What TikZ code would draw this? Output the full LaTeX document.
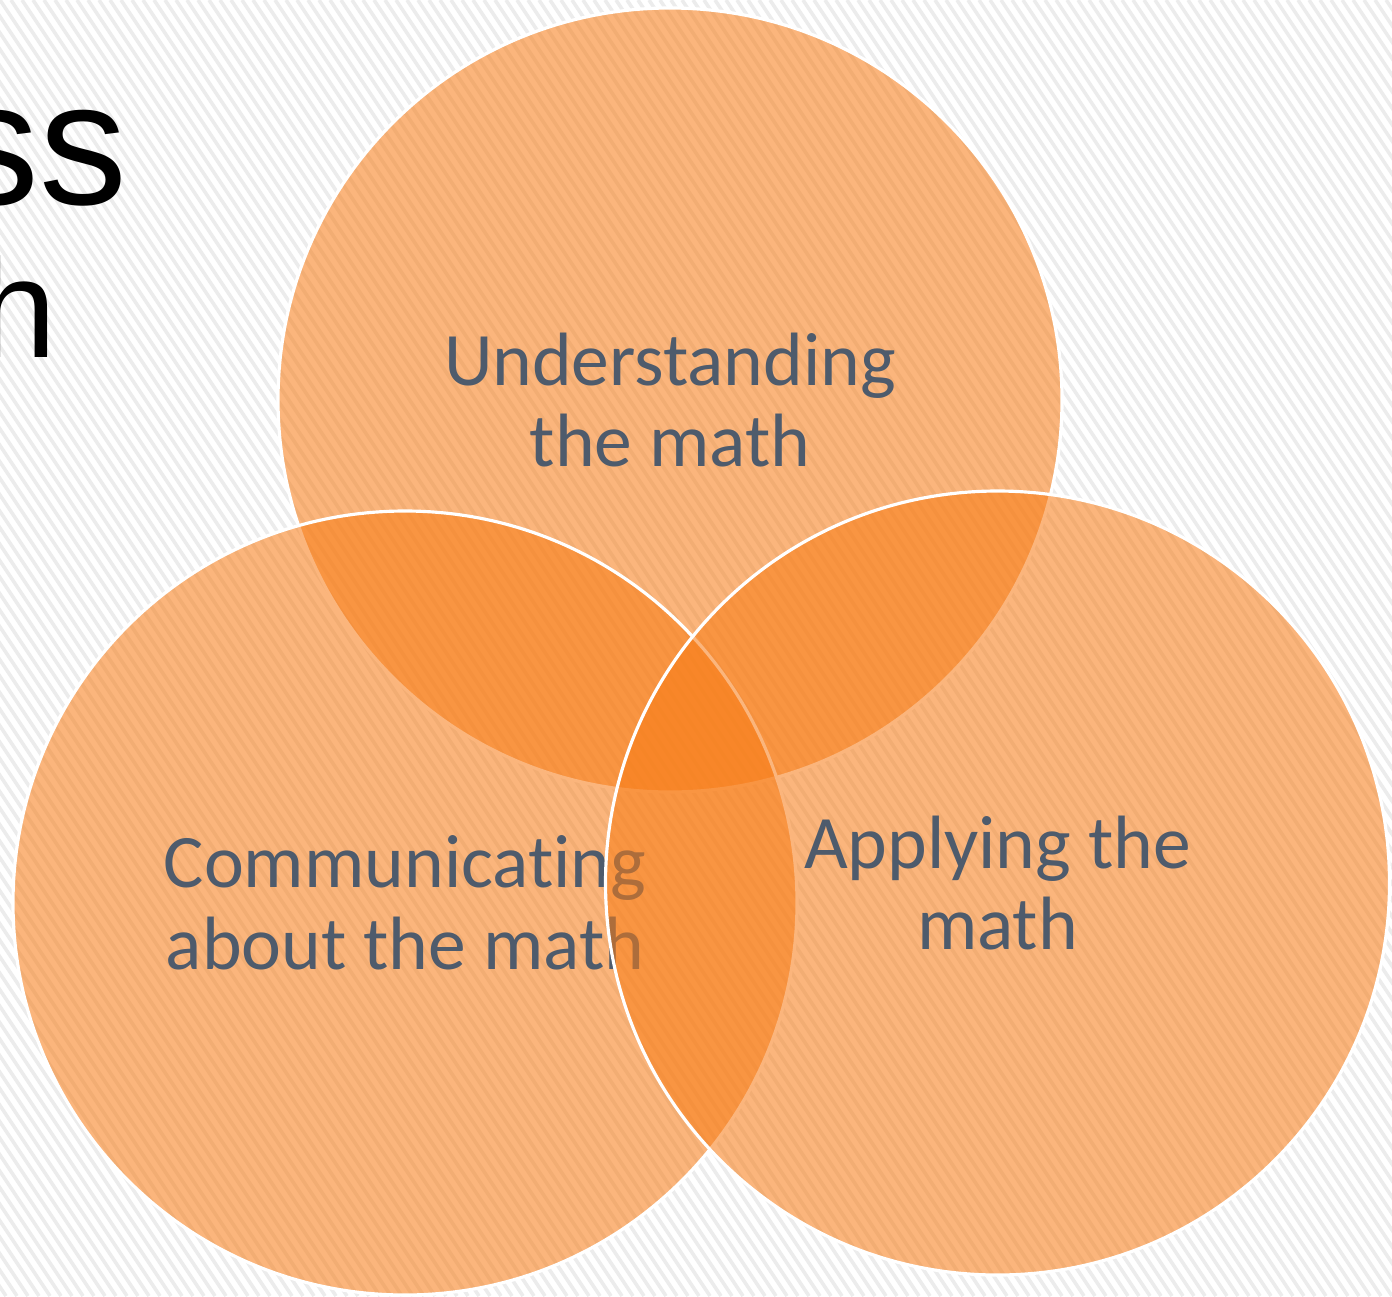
\documentclass[tikz,border=0pt]{standalone}
\usepackage{fontspec}
\setmainfont{Carlito}[Ligatures=NoCommon]
\newfontfamily\titlefont{Liberation Sans}
\definecolor{petal}{RGB}{248,124,22}
\definecolor{slate}{RGB}{78,91,108}
\definecolor{hatch}{RGB}{236,236,236}

\begin{document}
\begin{tikzpicture}[
      ring/.style={circle, minimum size=7.84cm, inner sep=0pt, fill=petal,
        fill opacity=0.56, text opacity=1, draw=white, line width=0.9pt,
        align=center, text=slate, font=\fontsize{21.5}{23.3}\selectfont},
      ttl/.style={inner sep=0pt, outer sep=0pt, anchor=base east}]
    % page with the striped backdrop
    \useasboundingbox (0,0) rectangle (13.92,-12.96);
    \fill[white] (0,0) rectangle (13.92,-12.96);
    \begin{scope}
      \clip (0,0) rectangle (13.92,-12.96);
      \foreach \x in {-8.80,-8.69,...,14.00}
        \draw[hatch, line width=1pt] (\x,0) -- ++(8.64,-12.96);
    \end{scope}
    % what is left of the title at the page edge
    \node[ttl, font=\titlefont\fontsize{50}{60}\selectfont] (title1) at (1.27,-2.04) {ss};
    \node[ttl, font=\titlefont\fontsize{40}{48}\selectfont] (title2) at (0.565,-3.57) {h};
    % the three overlapping circles, later ones over earlier ones
    \node[ring] (understand) at (6.70,-4.00) {Understanding\\the math};
    \node[ring] (communicate) at (4.05,-9.03) {Communicating\\about the math};
    \node[ring] (apply) at (9.975,-8.83) {Applying the\\math};
  \end{tikzpicture}
\end{document}
